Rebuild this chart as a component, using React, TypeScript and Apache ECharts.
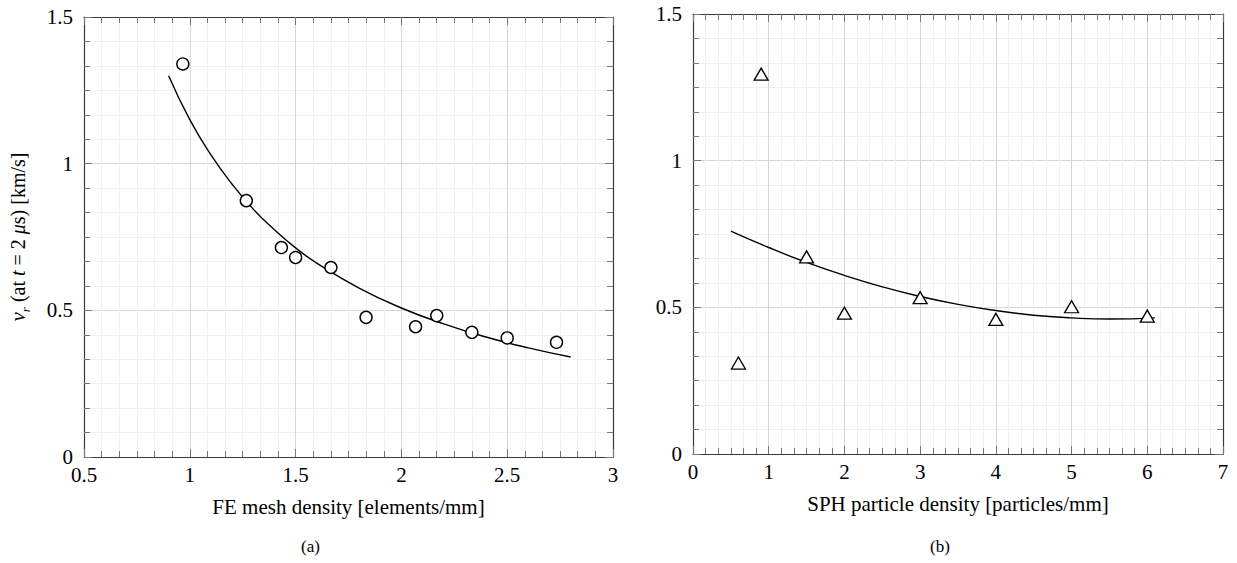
import React, { useEffect, useRef } from "react";
import * as echarts from "echarts";

const FONT = "'Liberation Serif', 'Times New Roman', Times, serif";

// (a) FE mesh density
const feX = [0.967, 1.267, 1.433, 1.5, 1.667, 1.833, 2.067, 2.167, 2.333, 2.5, 2.733];
const feY = [1.34, 0.874, 0.714, 0.68, 0.646, 0.476, 0.444, 0.482, 0.425, 0.406, 0.391];
const feFitX = [0.9, 1.0, 1.1, 1.2, 1.3, 1.4, 1.5, 1.6, 1.8, 2.0, 2.2, 2.4, 2.6, 2.8];
const feFitY = [1.3, 1.15, 1.03, 0.93, 0.845, 0.775, 0.713, 0.661, 0.576, 0.508, 0.454, 0.409, 0.372, 0.341];

// (b) SPH particle density
const sphX = [0.6, 0.9, 1.5, 2, 3, 4, 5, 6];
const sphY = [0.31, 1.295, 0.672, 0.48, 0.533, 0.459, 0.502, 0.47];
const sphFitX = [0.5, 1, 1.5, 2, 2.5, 3, 3.5, 4, 4.5, 5, 5.5, 6.1];
const sphFitY = [0.76, 0.704, 0.653, 0.609, 0.57, 0.537, 0.51, 0.489, 0.473, 0.464, 0.46, 0.464];

// axis ranges [min, max, interval]
const feXRange = [0.5, 3, 0.5];
const sphXRange = [0, 7, 1];
const yRange = [0, 1.5, 0.5];

const xNameA = "FE mesh density [elements/mm]";
const xNameB = "SPH particle density [particles/mm]";
const yNameA = "{v|v}{s|r} (at {i|t} = 2 {i|μ}s) [km/s]";
const captions = ["(a)", "(b)"];

const AXIS_COLOR = "#3a3a3a";
const TICK_COLOR = "#777";

function baseAxis(gridIndex: number, range: number[], position: string, main: boolean, name?: string) {
  return {
    type: "value",
    gridIndex,
    position,
    min: range[0],
    max: range[1],
    interval: range[2],
    name: name || "",
    nameLocation: "middle",
    axisLine: { show: true, onZero: false, lineStyle: { color: AXIS_COLOR, width: 1.2 } },
    axisTick: { show: true, inside: true, length: 8, lineStyle: { color: TICK_COLOR, width: 1 } },
    minorTick: { show: true, splitNumber: 6, length: 6, lineStyle: { color: TICK_COLOR, width: 1 } },
    axisLabel: {
      show: main,
      fontFamily: FONT,
      fontSize: 21,
      color: "#000",
    },
    splitLine: { show: main, lineStyle: { color: "#d6d6d6", width: 1 } },
    minorSplitLine: { show: main, lineStyle: { color: "#f0f0f0", width: 1 } },
  };
}

function xAxis(gridIndex: number, range: number[], position: string, main: boolean, name?: string) {
  const a: any = baseAxis(gridIndex, range, position, main, name);
  a.axisLabel.margin = 7;
  a.nameGap = 39;
  a.nameTextStyle = { fontFamily: FONT, fontSize: 21, color: "#000" };
  return a;
}

function yAxis(gridIndex: number, range: number[], position: string, main: boolean, name?: string) {
  const a: any = baseAxis(gridIndex, range, position, main, name);
  a.axisLabel.margin = 11;
  a.nameGap = 52;
  a.nameRotate = 90;
  a.nameTextStyle = {
    fontFamily: FONT,
    fontSize: 20,
    lineHeight: 28,
    color: "#000",
    rich: {
      v: { fontFamily: FONT, fontStyle: "italic", fontSize: 21, lineHeight: 28, color: "#000" },
      i: { fontFamily: FONT, fontStyle: "italic", fontSize: 20, lineHeight: 28, color: "#000" },
      s: { fontFamily: FONT, fontStyle: "italic", fontSize: 13, lineHeight: 13, verticalAlign: "bottom", color: "#000" },
    },
  };
  return a;
}

function zip(xs: number[], ys: number[]) {
  return xs.map((x, i) => [x, ys[i]]);
}

const option: any = {
  animation: false,
  backgroundColor: "#fff",
  grid: [
    { left: 84, top: 17, width: 529, height: 440, containLabel: false },
    { left: 693, top: 14, width: 530, height: 440, containLabel: false },
  ],
  xAxis: [
    xAxis(0, feXRange, "bottom", true, xNameA),
    xAxis(0, feXRange, "top", false),
    xAxis(1, sphXRange, "bottom", true, xNameB),
    xAxis(1, sphXRange, "top", false),
  ],
  yAxis: [
    yAxis(0, yRange, "left", true, yNameA),
    yAxis(0, yRange, "right", false),
    yAxis(1, yRange, "left", true),
    yAxis(1, yRange, "right", false),
  ],
  series: [
    {
      type: "line",
      xAxisIndex: 0,
      yAxisIndex: 0,
      data: zip(feFitX, feFitY),
      smooth: 0.5,
      showSymbol: false,
      symbol: "none",
      lineStyle: { color: "#000", width: 1.4 },
      z: 3,
    },
    {
      type: "scatter",
      xAxisIndex: 0,
      yAxisIndex: 0,
      data: zip(feX, feY),
      symbol: "circle",
      symbolSize: 12,
      itemStyle: { color: "#fff", borderColor: "#000", borderWidth: 1.4, opacity: 1 },
      z: 5,
    },
    {
      type: "line",
      xAxisIndex: 2,
      yAxisIndex: 2,
      data: zip(sphFitX, sphFitY),
      smooth: 0.5,
      showSymbol: false,
      symbol: "none",
      lineStyle: { color: "#000", width: 1.4 },
      z: 3,
    },
    {
      type: "scatter",
      xAxisIndex: 2,
      yAxisIndex: 2,
      data: zip(sphX, sphY),
      symbol: "triangle",
      symbolSize: [14, 12],
      itemStyle: { color: "#fff", borderColor: "#000", borderWidth: 1.3, opacity: 1 },
      z: 5,
    },
  ],
  graphic: [
    {
      type: "text",
      left: 301,
      top: 538,
      style: { text: captions[0], fontFamily: FONT, fontSize: 17, fill: "#000" },
    },
    {
      type: "text",
      left: 930,
      top: 538,
      style: { text: captions[1], fontFamily: FONT, fontSize: 17, fill: "#000" },
    },
  ],
};

export default function App() {
  const ref = useRef<HTMLDivElement>(null);
  useEffect(() => {
    const chart = echarts.init(ref.current!, null, { renderer: "svg" });
    chart.setOption(option);
    return () => chart.dispose();
  }, []);
  return (
    <div
      ref={ref}
      style={{ position: "fixed", left: 0, top: 0, width: 1237, height: 563, background: "#fff" }}
    />
  );
}
